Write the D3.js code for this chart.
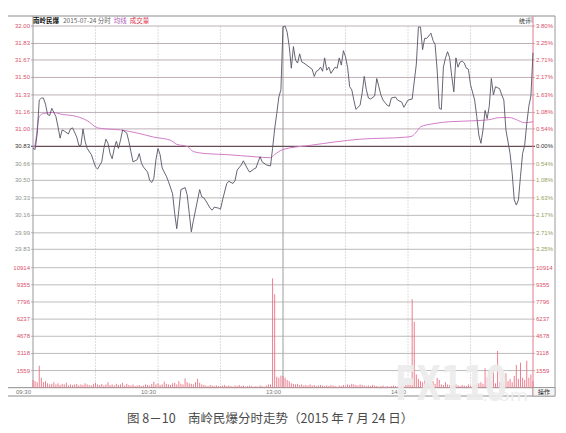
<!DOCTYPE html>
<html><head><meta charset="utf-8">
<script src="https://cdn.jsdelivr.net/npm/d3@7"></script>
<style>body{margin:0;background:#fff}svg{display:block}</style>
</head><body>
<svg id="c" width="566" height="433"></svg>
<script>
// ---------------- data ----------------
const stockName = "南岭民爆";
const headerDate = "2015-07-24 分时";
const priceLabels = ["32.00","31.83","31.67","31.50","31.33","31.16","31.00","30.83","30.66","30.50","30.33","30.16","29.99","29.83"];
const pctLabels = ["3.80%","3.25%","2.71%","2.17%","1.63%","1.08%","0.54%","0.00%","0.54%","1.08%","1.63%","2.17%","2.71%","3.25%"];
const basePrice = 30.83;
const volLabels = [10914, 9355, 7796, 6237, 4678, 3118, 1559];
const timeLabels = ["09:30", "10:30", "13:00", "14:00"];
const timeLabelMinutes = [0, 60, 120, 180];
const gridMinutes = [30, 60, 90, 120, 150, 180, 210];

// price line: [minute from 09:30, price]
const pricePoints = [
 [0,30.81],[1,30.80],[2,30.95],[3,31.28],[4,31.30],[5,31.30],[6,31.24],[7,31.14],[8,31.13],[9,31.20],
 [11,31.12],[12,31.02],[13,30.91],[14,30.99],[15,30.98],[17,30.95],[18,31.00],[19,31.01],[21,30.92],[22,30.84],
 [23,30.84],[24,31.00],[25,30.88],[26,30.81],[28,30.75],[30,30.63],[31,30.61],[33,30.68],[34,30.81],[35,30.90],
 [36,30.86],[37,30.76],[38,30.71],[39,30.81],[40,30.88],[41,30.81],[42,30.89],[43,30.99],[45,30.96],[46,30.88],
 [47,30.78],[48,30.68],[50,30.70],[51,30.76],[52,30.67],[53,30.63],[55,30.58],[56,30.50],[57,30.48],[58,30.52],
 [59,30.70],[60,30.81],[61,30.75],[62,30.62],[64,30.54],[65,30.49],[67,30.37],[68,30.18],[69,30.03],[70,30.21],
 [71,30.41],[73,30.43],[74,30.36],[75,30.18],[76,30.00],[77,30.11],[79,30.31],[80,30.41],[81,30.34],[82,30.33],
 [83,30.30],[85,30.23],[86,30.21],[87,30.24],[89,30.23],[90,30.22],[91,30.31],[93,30.47],[94,30.49],[96,30.47],
 [97,30.50],[98,30.60],[100,30.65],[101,30.69],[103,30.61],[104,30.58],[106,30.61],[107,30.62],[109,30.73],[110,30.68],
 [112,30.65],[114,30.64],[115,30.81],[116,31.00],[117,31.15],[118,31.31],[119,31.38],[120,31.99],
 [121,32.00],[122,31.94],[123,31.80],[124,31.59],[125,31.80],[126,31.67],[127,31.64],[128,31.73],[129,31.65],[130,31.64],
 [132,31.61],[134,31.58],[135,31.51],[136,31.56],[137,31.57],[138,31.60],[139,31.56],[140,31.69],[141,31.57],[142,31.60],
 [143,31.54],[145,31.60],[146,31.59],[147,31.69],[148,31.62],[149,31.76],[150,31.70],[151,31.60],[152,31.41],[153,31.38],
 [154,31.28],[155,31.19],[157,31.23],[158,31.35],[159,31.51],[160,31.38],[161,31.30],[162,31.29],[164,31.32],[165,31.49],
 [166,31.41],[167,31.33],[168,31.28],[170,31.23],[171,31.22],[172,31.30],[174,31.31],[175,31.28],[177,31.26],[178,31.21],
 [180,31.28],[182,31.29],[184,31.63],[185,31.99],[186,31.99],[187,31.77],[188,31.88],[189,31.88],[191,31.93],[192,31.86],
 [193,31.82],[194,31.57],[195,31.20],[196,31.19],[197,31.60],[198,31.69],[199,31.75],[200,31.69],[201,31.51],[202,31.36],
 [203,31.69],[204,31.60],[205,31.65],[206,31.66],[207,31.64],[208,31.59],[209,31.58],[210,31.43],[212,31.28],[213,31.12],
 [214,30.94],[215,30.86],[216,30.99],[217,31.18],[218,31.10],[219,31.22],[220,31.49],[221,31.33],[222,31.41],[224,31.39],
 [225,31.33],[226,31.28],[227,30.99],[229,30.76],[230,30.57],[231,30.31],[232,30.26],[233,30.31],[234,30.54],[235,30.76],
 [236,30.84],[237,31.05],[238,31.22],[239,31.32],[240,31.74]
];

// average price line: [minute, price]
const avgPoints = [
 [0,30.81],[1,30.85],[3,31.12],[5,31.15],[10,31.16],[14,31.14],[19,31.13],[26,31.08],[31,31.01],[35,31.00],
 [42,30.99],[50,30.96],[58,30.92],[66,30.89],[69,30.85],[74,30.83],[77,30.78],[83,30.76],[93,30.75],[106,30.73],
 [114,30.72],[116,30.75],[118,30.78],[120,30.80],[133,30.84],[157,30.90],[179,30.92],[182,30.93],[184,30.97],[186,31.02],
 [192,31.05],[200,31.07],[213,31.08],[219,31.09],[224,31.11],[229,31.11],[232,31.09],[236,31.06],[240,31.07]
];

// volume per minute (241 values, 09:30 .. 15:00)
const volumes = [
 700,600,500,2000,900,500,600,400,300,350,
 500,300,400,250,350,300,450,200,300,250,
 300,350,200,300,250,400,300,250,200,350,
 450,300,250,350,200,300,500,250,300,200,
 350,250,300,450,200,350,250,200,300,150,
 200,250,150,200,300,250,200,350,550,300,
 400,250,300,550,350,300,250,400,450,300,
 600,350,300,850,500,400,350,300,500,800,
 450,300,250,200,150,250,200,150,200,150,
 150,200,250,150,200,150,100,200,150,250,
 150,200,100,150,200,150,100,150,100,200,
 150,100,200,300,300,9950,8500,1000,900,1100,
 1065,
 900,700,600,400,350,300,350,250,300,200,
 250,200,300,200,250,150,200,250,200,150,
 200,150,250,200,150,100,200,150,250,200,
 300,250,350,300,250,200,300,250,200,150,
 200,150,250,200,150,100,150,200,100,150,
 100,150,200,150,100,150,200,150,250,300,
 350,8050,6000,1200,800,600,500,700,400,300,
 300,600,350,900,700,300,250,500,300,250,
 200,250,300,200,150,250,200,150,300,200,
 200,250,300,400,500,350,1765,900,1610,600,
 1674,400,3340,500,700,400,1310,600,800,500,
 1065,2066,800,2275,900,700,2457,900,1200,600
];

// ---------------- drawing ----------------
const svg = d3.select("#c");
const F = "'Liberation Sans', Arial, sans-serif";
const CJK = "'Noto Sans CJK SC', sans-serif";

const x = d3.scaleLinear().domain([0, 240]).range([33, 533]);
const yP = d3.scaleLinear().domain([29.83, 32.00]).range([249.3, 26]);
const yV = d3.scaleLinear().domain([0, 10914]).range([387.7, 267.7]);

// frame
svg.append("line").attr("x1", 8).attr("x2", 555).attr("y1", 16).attr("y2", 16).attr("stroke", "#8c8c8c").attr("stroke-width", 1);
svg.append("line").attr("x1", 555).attr("x2", 555).attr("y1", 16).attr("y2", 396).attr("stroke", "#9a9a9a");
svg.append("line").attr("x1", 8).attr("x2", 555).attr("y1", 396).attr("y2", 396).attr("stroke", "#8c8c8c");
svg.append("line").attr("x1", 8).attr("x2", 555).attr("y1", 387.7).attr("y2", 387.7).attr("stroke", "#8c8c8c");

// vertical grid
gridMinutes.forEach(m => {
  svg.append("line").attr("x1", x(m)).attr("x2", x(m)).attr("y1", 26).attr("y2", 387.7)
    .attr("stroke", m === 120 ? "#9c9c9c" : "#d6d6d6")
    .attr("stroke-width", m === 120 ? 1 : 0.8)
    .attr("stroke-dasharray", m === 120 ? null : "2,1");
});

// price grid + labels
priceLabels.forEach((lab, i) => {
  const yy = yP(+lab);
  const isBase = +lab === basePrice;
  const above = +lab > basePrice;
  svg.append("line").attr("x1", 31).attr("x2", 535).attr("y1", yy).attr("y2", yy)
    .attr("stroke", isBase ? "#6a4e56" : (above ? "#ae9ca3" : "#aaaaaa"))
    .attr("stroke-width", isBase ? 1.1 : 0.8);
  svg.append("text").attr("x", 30).attr("y", yy + 2).attr("text-anchor", "end")
    .attr("font-family", F).attr("font-size", 6)
    .attr("fill", isBase ? "#333" : (above ? "#d9506a" : "#8e9388")).text(lab);
  svg.append("text").attr("x", 536).attr("y", yy + 2).attr("text-anchor", "start")
    .attr("font-family", F).attr("font-size", 6)
    .attr("fill", isBase ? "#333" : (above ? "#d9506a" : "#96a05e")).text(pctLabels[i]);
});

// volume grid + labels
volLabels.forEach(v => {
  const yy = yV(v);
  svg.append("line").attr("x1", 31).attr("x2", 535).attr("y1", yy).attr("y2", yy)
    .attr("stroke", "#ababab").attr("stroke-width", 0.8);
  svg.append("text").attr("x", 30).attr("y", yy + 2).attr("text-anchor", "end")
    .attr("font-family", F).attr("font-size", 6).attr("fill", "#d9506a").text(v);
  svg.append("text").attr("x", 536).attr("y", yy + 2).attr("text-anchor", "start")
    .attr("font-family", F).attr("font-size", 6).attr("fill", "#d9506a").text(v);
});

// axes lines
svg.append("line").attr("x1", 33).attr("x2", 33).attr("y1", 16).attr("y2", 387.7).attr("stroke", "#999");
svg.append("line").attr("x1", 533).attr("x2", 533).attr("y1", 16).attr("y2", 396).attr("stroke", "#e07a8c");

// volume bars
svg.append("g").selectAll("line").data(volumes).join("line")
  .attr("x1", (d, i) => x(i)).attr("x2", (d, i) => x(i))
  .attr("y1", yV(0)).attr("y2", d => yV(d))
  .attr("stroke", "#ec6f82").attr("stroke-width", 0.9);

// avg line
svg.append("path").datum(avgPoints)
  .attr("d", d3.line().x(d => x(d[0])).y(d => yP(d[1])).curve(d3.curveMonotoneX))
  .attr("fill", "none").attr("stroke", "#d47cc8").attr("stroke-width", 1);

// price line
svg.append("path").datum(pricePoints)
  .attr("d", d3.line().x(d => x(d[0])).y(d => yP(d[1])))
  .attr("fill", "none").attr("stroke", "#555566").attr("stroke-width", 0.9);

// time labels
timeLabels.forEach((t, i) => {
  svg.append("text").attr("x", x(timeLabelMinutes[i]) - 2).attr("y", 394)
    .attr("text-anchor", "end").attr("font-family", F).attr("font-size", 6)
    .attr("fill", "#777").text(t);
});

// header
const hdr = svg.append("text").attr("x", 33).attr("y", 23).attr("font-family", CJK).attr("font-size", 6.5);
hdr.append("tspan").attr("fill", "#111").attr("font-weight", "bold").text(stockName);
hdr.append("tspan").attr("dx", 4).attr("fill", "#666").text(headerDate);
hdr.append("tspan").attr("dx", 3).attr("fill", "#b05ab8").text("均线");
hdr.append("tspan").attr("dx", 3).attr("fill", "#e03050").text("成交量");

svg.append("text").attr("x", 519).attr("y", 23).attr("font-family", CJK).attr("font-size", 6)
  .attr("fill", "#333").text("统计");
svg.append("rect").attr("x", 528).attr("y", 18).attr("width", 4).attr("height", 4)
  .attr("fill", "none").attr("stroke", "#888").attr("stroke-width", 0.6);

svg.append("rect").attr("x", 533).attr("y", 387.7).attr("width", 22).attr("height", 8.3)
  .attr("fill", "#f4f4f4").attr("stroke", "#888").attr("stroke-width", 0.6);
svg.append("text").attr("x", 538).attr("y", 394.2).attr("font-family", CJK).attr("font-size", 6)
  .attr("fill", "#222").text("操作");

// watermark
svg.append("text").attr("x", 395).attr("y", 400).attr("font-family", "'DejaVu Sans', sans-serif")
  .attr("font-weight", "bold").attr("font-size", 48).attr("fill", "#ececec").attr("opacity", 0.92)
  .attr("textLength", 112).attr("lengthAdjust", "spacingAndGlyphs").text("FX110");
svg.append("text").attr("x", 482).attr("y", 401).attr("font-family", "'DejaVu Sans', sans-serif")
  .attr("font-size", 16).attr("fill", "#ededed").attr("opacity", 0.92)
  .attr("textLength", 46).attr("lengthAdjust", "spacingAndGlyphs").text(".com");

// caption
svg.append("text").attr("x", 127).attr("y", 423).attr("font-family", CJK).attr("font-size", 12.5)
  .attr("fill", "#4a4a4a").text("图 8－10　南岭民爆分时走势（2015 年 7 月 24 日）");
</script>
</body></html>
